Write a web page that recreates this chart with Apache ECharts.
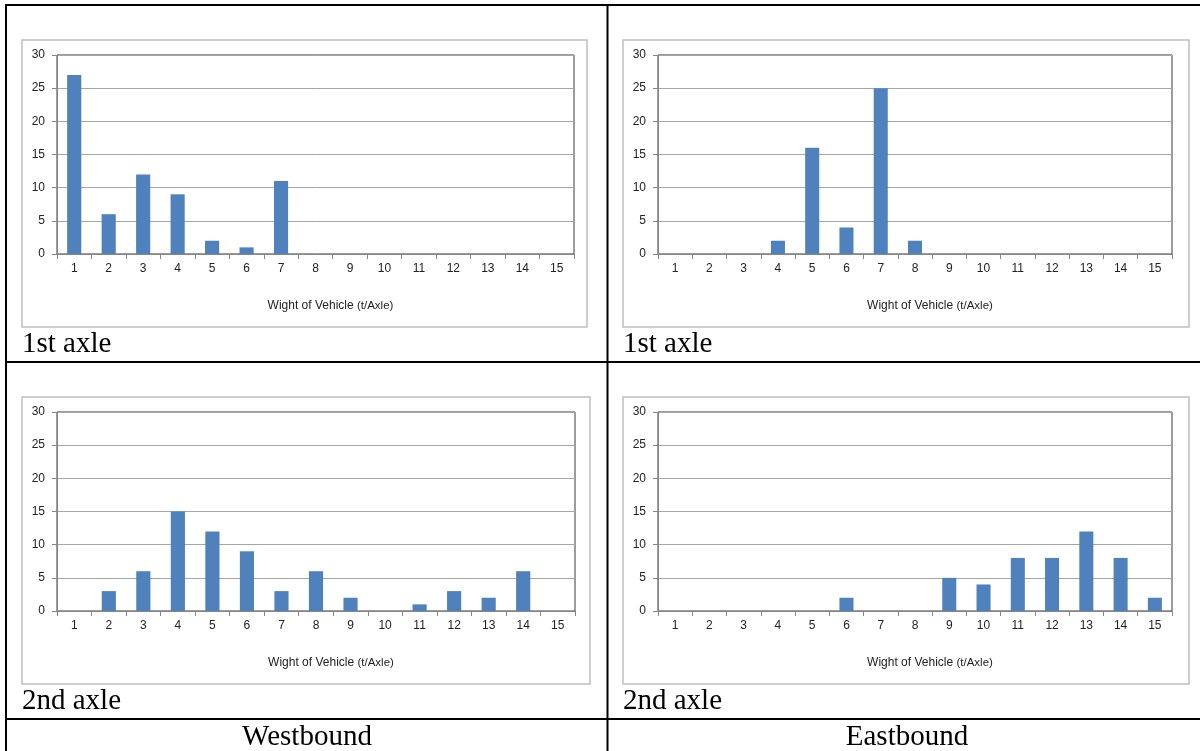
<!DOCTYPE html>
<html>
<head>
<meta charset="utf-8">
<script src="https://cdn.jsdelivr.net/npm/echarts@6/dist/echarts.min.js"></script>
<style>
html,body{margin:0;padding:0;background:#fff;}
#c{width:1200px;height:751px;}
</style>
</head>
<body>
<div id="c"></div>
<script>
// categories: weight classes (t/axle)
var categories = ['1','2','3','4','5','6','7','8','9','10','11','12','13','14','15'];
var yTicks = [0, 5, 10, 15, 20, 25, 30];
// Westbound 1st axle
var west1 = [27, 6, 12, 9, 2, 1, 11, 0, 0, 0, 0, 0, 0, 0, 0];
// Eastbound 1st axle
var east1 = [0, 0, 0, 2, 16, 4, 25, 2, 0, 0, 0, 0, 0, 0, 0];
// Westbound 2nd axle
var west2 = [0, 3, 6, 15, 12, 9, 3, 6, 2, 0, 1, 3, 2, 6, 0];
// Eastbound 2nd axle
var east2 = [0, 0, 0, 0, 0, 2, 0, 0, 5, 4, 8, 8, 12, 8, 2];
var axisTitle = 'Wight of Vehicle ';
var axisUnit = '(t/Axle)';
var rowLabels = ['1st axle', '2nd axle'];
var colLabels = ['Westbound', 'Eastbound'];

var chart = echarts.init(document.getElementById('c'), null, {renderer: 'canvas'});

var grids = [
  {left: 57, top: 55, width: 517, height: 199},
  {left: 658, top: 55, width: 514, height: 199},
  {left: 57, top: 412, width: 518, height: 199},
  {left: 658, top: 412, width: 514, height: 199}
];
var seriesData = [west1, east1, west2, east2];

var sans = 'Liberation Sans, Arial, sans-serif';
var serif = 'Liberation Serif, Times New Roman, serif';

var gridOpts = grids.map(function (g) {
  return Object.assign({show: true, borderColor: '#3a3a3a', borderWidth: 1, backgroundColor: 'transparent'}, g);
});

var xAxes = grids.map(function (g, i) {
  return {
    type: 'category', gridIndex: i, data: categories, boundaryGap: true,
    axisLine: {lineStyle: {color: '#868686', width: 1}},
    axisTick: {show: true, alignWithLabel: false, inside: false, length: 5, lineStyle: {color: '#868686'}},
    axisLabel: {color: '#222', fontFamily: sans, fontSize: 12, margin: 9},
    name: '{a|' + axisTitle + '}{b|' + axisUnit + '}',
    nameLocation: 'middle', nameGap: 46,
    nameTextStyle: {
      padding: [0, 0, 0, 30],
      rich: {
        a: {fontFamily: sans, fontSize: 12, color: '#222'},
        b: {fontFamily: sans, fontSize: 11.5, color: '#222'}
      }
    },
    splitLine: {show: false}
  };
});

var yAxes = grids.map(function (g, i) {
  return {
    type: 'value', gridIndex: i, min: yTicks[0], max: yTicks[yTicks.length - 1], interval: yTicks[1] - yTicks[0],
    axisLine: {show: true, lineStyle: {color: '#868686', width: 1}},
    axisTick: {show: true, length: 5, lineStyle: {color: '#868686'}},
    axisLabel: {color: '#222', fontFamily: sans, fontSize: 12, margin: 12},
    splitLine: {show: true, lineStyle: {color: '#A6A6A6', width: 1}}
  };
});

var series = seriesData.map(function (d, i) {
  return {
    type: 'bar', xAxisIndex: i, yAxisIndex: i, data: d,
    barWidth: '41%',
    itemStyle: {color: '#4F81BD'},
    silent: true, animation: false
  };
});

function line(x1, y1, x2, y2, w, c) {
  return {type: 'line', shape: {x1: x1, y1: y1, x2: x2, y2: y2}, style: {stroke: c || '#000', lineWidth: w || 2}, z: 100, silent: true};
}
function frame(x, y, w, h) {
  return {type: 'rect', shape: {x: x, y: y, width: w, height: h}, style: {fill: 'none', stroke: '#BFBFBF', lineWidth: 1.5}, z: 0, silent: true};
}
function txt(x, y, s, align) {
  return {type: 'text', x: x, y: y, style: {text: s, font: '29px ' + serif, fill: '#000', align: align || 'left', verticalAlign: 'middle'}, z: 100, silent: true};
}

var graphic = [
  // table lines
  line(6, 4, 6, 751), line(5, 5, 1200, 5), line(607.5, 4, 607.5, 751),
  line(5, 362, 1200, 362), line(5, 719, 1200, 719),
  // chart frames
  frame(22, 40, 565, 287), frame(623, 40, 566, 287),
  frame(22, 397, 568, 287), frame(623, 397, 566, 287),
  // cell labels
  txt(22, 344, rowLabels[0]), txt(623, 344, rowLabels[0]),
  txt(22, 701, rowLabels[1]), txt(623, 701, rowLabels[1]),
  txt(307, 737, colLabels[0], 'center'), txt(907, 737, colLabels[1], 'center')
];

chart.setOption({
  animation: false,
  backgroundColor: '#fff',
  grid: gridOpts,
  xAxis: xAxes,
  yAxis: yAxes,
  series: series,
  graphic: graphic
});
</script>
</body>
</html>
